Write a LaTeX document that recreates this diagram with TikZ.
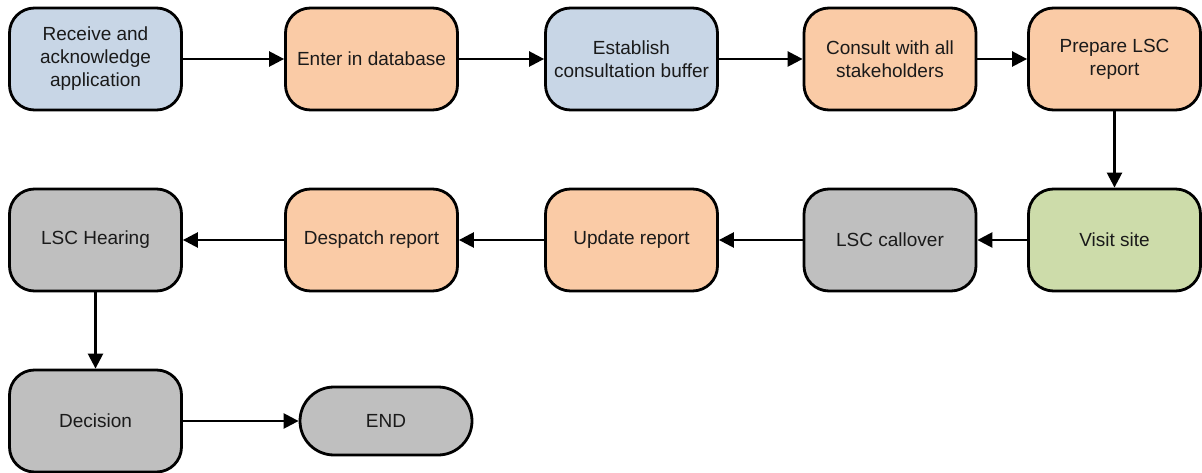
\documentclass[tikz,border=0pt]{standalone}
\usepackage{fontspec}
\setmainfont{Liberation Sans}
\usepackage{tikz}
\usetikzlibrary{positioning, arrows.meta, shapes.geometric}

\definecolor{stepblue}{RGB}{200,214,230}
\definecolor{steporange}{RGB}{250,203,166}
\definecolor{stepgreen}{RGB}{205,220,170}
\definecolor{stepgray}{RGB}{191,191,191}
\definecolor{steptext}{RGB}{26,26,26}

\begin{document}
\begin{tikzpicture}[x=1pt, y=-1pt,
	stepbox/.style={draw=black, line width=2.8pt, rounded corners=25pt, minimum width=172pt, minimum height=102pt, align=center, text=steptext, font=\fontsize{19}{23}\selectfont, inner sep=2pt},
	endbox/.style={stepbox, rounded corners=34pt, minimum height=68pt},
	flow/.style={-{Triangle[length=15pt, width=15pt]}, line width=2.5pt}]
	\useasboundingbox (0,0) rectangle (1202,473);
	
	% First row
	\node[stepbox, fill=stepblue] (receive) at (95.5,59) {Receive and\\acknowledge\\application};
	\node[stepbox, fill=steporange] (enter) at (371.5,59) {Enter in database};
	\node[stepbox, fill=stepblue] (buffer) at (631.5,59) {Establish\\consultation buffer};
	\node[stepbox, fill=steporange] (consult) at (890,59) {Consult with all\\stakeholders};
	\node[stepbox, fill=steporange] (prepare) at (1114.5,59) {Prepare LSC\\report};
	
	% Second row
	\node[stepbox, fill=stepgreen] (visit) at (1114.5,240) {Visit site};
	\node[stepbox, fill=stepgray] (callover) at (890,240) {LSC callover};
	\node[stepbox, fill=steporange] (update) at (631.5,240) {Update report};
	\node[stepbox, fill=steporange] (despatch) at (371.5,240) {Despatch report};
	\node[stepbox, fill=stepgray] (hearing) at (95.5,240) {LSC Hearing};
	
	% Third row
	\node[stepbox, fill=stepgray] (decision) at (95.5,421) {Decision};
	\node[endbox, fill=stepgray] (finish) at (386,421) {END};
	
	% Connectors
	\draw[flow] (receive) -- (enter);
	\draw[flow] (enter) -- (buffer);
	\draw[flow] (buffer) -- (consult);
	\draw[flow] (consult) -- (prepare);
	\draw[flow] (prepare) -- (visit);
	\draw[flow] (visit) -- (callover);
	\draw[flow] (callover) -- (update);
	\draw[flow] (update) -- (despatch);
	\draw[flow] (despatch) -- (hearing);
	\draw[flow] (hearing) -- (decision);
	\draw[flow] (decision) -- (finish);
\end{tikzpicture}
\end{document}
